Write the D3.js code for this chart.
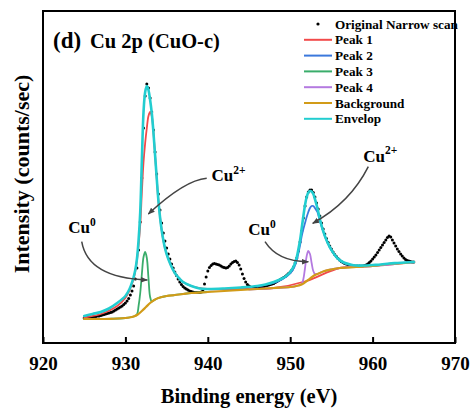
<!DOCTYPE html>
<html>
<head>
<meta charset="utf-8">
<script src="https://cdn.jsdelivr.net/npm/d3@7"></script>
<style>
  body { margin: 0; background: #fff; }
  svg { display: block; }
  svg text { font-family: "Liberation Serif", "Times New Roman", Times, "Nimbus Roman", "DejaVu Serif", serif; font-weight: bold; fill: #000; }
</style>
</head>
<body>
<svg id="chart" width="472" height="410"></svg>
<script>
// ---- Measured narrow scan (counts/sec), 0.2 eV steps from 925 eV ----
const scanStart = 925;
const scanStep = 0.2;
const scanCounts = [
  2500,2500,2550,2550,2600,2600,2650,2650,2700,2700,
  2750,2800,2850,2900,2950,3000,3050,3100,3200,3300,
  3400,3500,3600,3700,3850,4000,4200,4450,4800,5200,
  5700,6400,7500,9300,12100,16500,21500,24700,25900,25500,
  24500,23100,21300,19100,16900,14900,13300,12000,11000,10200,
  9500,8900,8400,7900,7500,7100,6750,6400,6100,5850,
  5650,5500,5400,5300,5200,5150,5100,5050,5050,5050,
  5050,5100,5300,5900,6600,7200,7550,7750,7900,7950,
  7900,7850,7800,7700,7600,7550,7500,7550,7700,7900,
  8050,8150,8200,8050,7800,7400,6900,6450,6100,5850,
  5700,5600,5550,5500,5500,5500,5500,5550,5600,5650,
  5700,5750,5800,5850,5900,5950,6050,6150,6250,6350,
  6450,6550,6650,6800,6950,7100,7300,7600,8000,8500,
  9200,10100,11200,12500,13700,14600,15100,15300,15300,15050,
  14600,14000,13400,12700,12000,11400,10900,10450,10050,9700,
  9400,9100,8850,8650,8450,8300,8150,8050,7950,7900,
  7850,7800,7750,7750,7700,7700,7700,7700,7700,7700,
  7750,7800,7900,8050,8200,8400,8600,8800,9050,9300,
  9550,9800,10050,10300,10550,10700,10600,10300,10000,9700,
  9400,9150,8900,8700,8500,8350,8250,8200,8150,8100,
  8100
];
const scanEnergy = scanCounts.map((_, i) => +(scanStart + i * scanStep).toFixed(1));

// ---- Fitted components ----
const peak1Energy = [925,927,929,930,930.5,931,931.2,931.4,931.6,931.8,932,932.2,932.4,932.6,932.8,933,933.2,933.4,933.6,933.8,934,934.4,934.8,935.5,936,937,938,940,944,948,952,956,960,965];
const peak1Counts = [2550,2900,3700,4500,5250,6450,7200,8250,9800,11800,15100,18100,20000,21500,22700,23100,22700,21100,18800,16500,14300,11300,9500,7800,7000,6100,5700,5400,5400,5500,6200,7500,7700,8100];

const peak2Energy = [946,948,949,950,950.5,950.8,951,951.2,951.4,951.6,951.8,952,952.2,952.4,952.6,952.8,953,953.3,953.6,954,954.5,955,955.7,956.5,957.3,958,960,962,965];
const peak2Counts = [5650,6000,6350,6950,7600,8300,9000,9800,10700,11400,12000,12600,13100,13500,13700,13700,13500,13100,12200,11200,10100,9300,8500,8000,7800,7700,7750,7900,8100];

const peak3Energy = [925,928,930,931,931.4,931.6,931.8,932,932.2,932.4,932.6,932.8,933,933.2,933.4,934,935,936,938,940];
const peak3Counts = [2400,2420,2500,2650,2850,3700,5000,6900,8600,9100,8500,6500,4600,4150,4250,4500,4700,4800,5000,5100];

const peak4Energy = [945,950,950.5,951,951.4,951.6,951.8,952,952.2,952.4,952.6,952.8,953,953.2,953.6,954,956,960,965];
const peak4Counts = [5350,5600,5650,5750,5900,6400,7500,8700,9200,8900,8000,7200,6900,6900,7000,7150,7500,7700,8100];

const backgroundEnergy = [925,926,927,928,929,930,930.5,931,931.5,932,932.5,933,933.5,934,935,936,937,938,940,942,944,946,948,950,950.5,951,951.5,952,952.5,953,953.6,954,955,956,958,960,962,964,965];
const backgroundCounts = [2400,2400,2400,2420,2450,2500,2550,2650,2850,3200,3600,4000,4300,4500,4700,4800,4900,5000,5100,5200,5300,5400,5500,5600,5650,5750,5900,6200,6500,6800,7000,7150,7350,7500,7600,7700,7900,8000,8100];

const envelopeEnergy = [925,926,927,928,929,930,930.5,931,931.2,931.4,931.6,931.8,932,932.2,932.4,932.6,932.8,933,933.2,933.4,933.6,933.8,934,934.2,934.4,934.6,934.8,935,935.5,936,936.5,937,938,939,940,942,944,946,947,948,949,949.5,950,950.5,950.8,951,951.2,951.4,951.6,951.8,952,952.2,952.4,952.6,952.8,953,953.3,953.6,954,954.5,955,955.7,956.5,957.3,958,959,960,961,962,963,964,965];
const envelopeCounts = [2700,2900,3100,3450,4000,4700,5400,6600,7300,8400,10300,13100,18300,23100,25100,25700,25300,24300,23000,21100,18800,16500,14300,12600,11300,10300,9500,8900,7800,7000,6500,6100,5700,5450,5400,5450,5550,5700,5850,6100,6450,6700,7100,7800,8600,9400,10300,11500,12700,13800,14600,15050,15200,15150,14900,14400,13500,12400,11200,10100,9300,8500,8050,7850,7750,7750,7800,7850,7950,8000,8050,8100];

// ---- Axis ticks ----
const xTicks = [920, 930, 940, 950, 960, 970];

// ---- Legend entries ----
const legendNames = ["Original Narrow scan", "Peak 1", "Peak 2", "Peak 3", "Peak 4", "Background", "Envelop"];
const legendColors = ["#000000", "#f24a4a", "#3b78dc", "#3aad6b", "#b47ae0", "#d29b18", "#22cdd0"];

// ---- Peak assignments (energy, counts) ----
const annoLabels = ["Cu", "Cu", "Cu", "Cu"];
const annoSups = ["2+", "0", "2+", "0"];
const annoTextE = [940.44, 923.07, 958.87, 944.92];
const annoTextI = [16200, 11000, 18130, 10800];
const arrowStartE = [939.87, 924.70, 959.48, 946.94];
const arrowStartI = [16470, 10130, 17630, 10130];
const arrowCtrlE = [937.23, 925.46, 957.26, 948.51];
const arrowCtrlI = [16300, 6500, 14000, 8100];
const arrowEndE = [932.78, 932.66, 952.73, 952.20];
const arrowEndI = [12900, 6300, 11970, 8130];

const svg = d3.select("#chart");
const plot = { left: 43, right: 455, top: 11, bottom: 343 };

const x = d3.scaleLinear().domain([920, 970]).range([plot.left, plot.right]);
const y = d3.scaleLinear().domain([0, 33200]).range([plot.bottom, plot.top]);

const pts = (E, C) => E.map((e, i) => [e, C[i]]);
const line = d3.line()
  .x(d => x(d[0]))
  .y(d => y(d[1]))
  .curve(d3.curveCatmullRom.alpha(0.5));

// measured points
svg.append("g")
  .selectAll("circle")
  .data(pts(scanEnergy, scanCounts))
  .join("circle")
  .attr("cx", d => x(d[0]))
  .attr("cy", d => y(d[1]))
  .attr("r", 1.5)
  .attr("fill", "#000");

// fitted curves
const curves = [
  { E: peak1Energy, C: peak1Counts, color: legendColors[1], w: 1.8 },
  { E: peak2Energy, C: peak2Counts, color: legendColors[2], w: 1.8 },
  { E: peak3Energy, C: peak3Counts, color: legendColors[3], w: 1.8 },
  { E: peak4Energy, C: peak4Counts, color: legendColors[4], w: 1.8 },
  { E: backgroundEnergy, C: backgroundCounts, color: legendColors[5], w: 2.2 },
  { E: envelopeEnergy, C: envelopeCounts, color: legendColors[6], w: 2.6 }
];
svg.append("g")
  .selectAll("path")
  .data(curves)
  .join("path")
  .attr("d", c => line(pts(c.E, c.C)))
  .attr("fill", "none")
  .attr("stroke", c => c.color)
  .attr("stroke-width", c => c.w)
  .attr("stroke-linejoin", "round")
  .attr("stroke-linecap", "round");

// arrow marker
svg.append("defs").append("marker")
  .attr("id", "head")
  .attr("viewBox", "0 0 10 10")
  .attr("refX", 9).attr("refY", 5)
  .attr("markerWidth", 7).attr("markerHeight", 7)
  .attr("markerUnits", "userSpaceOnUse")
  .attr("orient", "auto")
  .append("path")
  .attr("d", "M0,1 L10,5 L0,9 Z")
  .attr("fill", "#444");

const annoG = svg.append("g");
annoLabels.forEach((lab, i) => {
  const p = d3.path();
  p.moveTo(x(arrowStartE[i]), y(arrowStartI[i]));
  p.quadraticCurveTo(x(arrowCtrlE[i]), y(arrowCtrlI[i]), x(arrowEndE[i]), y(arrowEndI[i]));
  annoG.append("path")
    .attr("d", p.toString())
    .attr("fill", "none")
    .attr("stroke", "#444")
    .attr("stroke-width", 1.5)
    .attr("marker-end", "url(#head)");
  const t = annoG.append("text")
    .attr("x", x(annoTextE[i]))
    .attr("y", y(annoTextI[i]))
    .style("font-size", "17px");
  t.append("tspan").text(lab);
  t.append("tspan").style("font-size", "11.5px").attr("dy", -7.5).text(annoSups[i]);
});

// frame
svg.append("rect")
  .attr("x", plot.left).attr("y", plot.top)
  .attr("width", plot.right - plot.left)
  .attr("height", plot.bottom - plot.top)
  .attr("fill", "none")
  .attr("stroke", "#000")
  .attr("stroke-width", 2);

// bottom axis
const xAxis = svg.append("g")
  .attr("transform", `translate(0,${plot.bottom})`)
  .call(d3.axisBottom(x).tickValues(xTicks).tickFormat(d3.format("d"))
    .tickSizeInner(-6).tickSizeOuter(0).tickPadding(14));
xAxis.attr("font-family", null).attr("font-size", null);
xAxis.select(".domain").remove();
xAxis.selectAll(".tick line").attr("stroke", "#000").attr("stroke-width", 2);
xAxis.selectAll(".tick text").style("font-size", "19px");

// axis titles
svg.append("text")
  .attr("x", (plot.left + plot.right) / 2)
  .attr("y", 403)
  .attr("text-anchor", "middle")
  .style("font-size", "20.5px")
  .text("Binding energy (eV)");

svg.append("text")
  .attr("transform", "translate(29,174) rotate(-90)")
  .attr("text-anchor", "middle")
  .style("font-size", "22px")
  .text("Intensity (counts/sec)");

// panel title
svg.append("text").attr("x", 53).attr("y", 48).style("font-size", "23px").text("(d)");
svg.append("text").attr("x", 90).attr("y", 48).style("font-size", "20.5px").text("Cu 2p (CuO-c)");

// legend
const legend = svg.append("g");
legendNames.forEach((name, i) => {
  const cy = 24 + i * 15.8;
  if (i === 0) {
    legend.append("circle").attr("cx", 318).attr("cy", cy).attr("r", 1.6).attr("fill", "#000");
  } else {
    legend.append("line")
      .attr("x1", 304).attr("x2", 332).attr("y1", cy).attr("y2", cy)
      .attr("stroke", legendColors[i]).attr("stroke-width", 2);
  }
  legend.append("text")
    .attr("x", 335).attr("y", cy + 4.5)
    .style("font-size", "13.2px")
    .text(name);
});
</script>
</body>
</html>
